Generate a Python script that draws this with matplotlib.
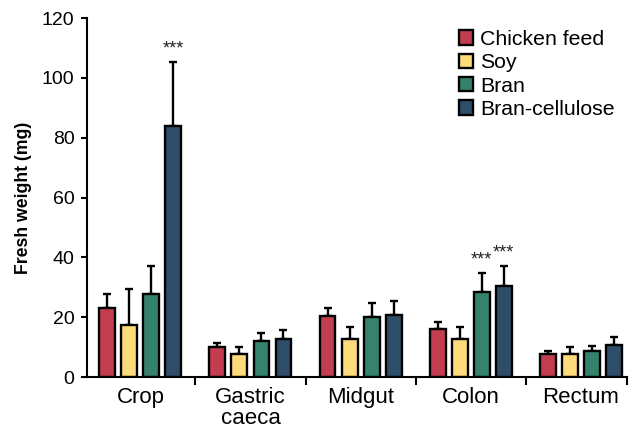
import numpy as np
import matplotlib.pyplot as plt
from matplotlib.patches import Patch

plt.rcParams['font.family'] = ['Liberation Sans', 'DejaVu Sans']

# gut sections and diets
sections = ["Crop", "Gastric\ncaeca", "Midgut", "Colon", "Rectum"]
diets = ["Chicken feed", "Soy", "Bran", "Bran-cellulose"]
colors = ["#C33D50", "#FDDA7A", "#36836D", "#2E4D69"]

# mean fresh weight (mg) per diet, ordered by section
chicken = [23.0, 10.0, 20.5, 16.2, 7.7]
soy = [17.4, 7.6, 12.7, 12.7, 7.7]
bran = [27.7, 12.0, 20.2, 28.3, 8.6]
bran_cell = [83.9, 12.6, 20.8, 30.5, 10.7]

# upper error (SD)
chicken_err = [4.7, 1.4, 2.7, 2.1, 1.0]
soy_err = [12.0, 2.4, 3.9, 4.0, 2.4]
bran_err = [9.4, 2.8, 4.5, 6.6, 1.9]
bran_cell_err = [21.5, 3.1, 4.7, 6.7, 2.6]

means = [chicken, soy, bran, bran_cell]
errs = [chicken_err, soy_err, bran_err, bran_cell_err]

# significance marks: (section, diet)
stars = [(0, 3), (3, 2), (3, 3)]

fig = plt.figure(figsize=(6.3, 4.29), dpi=100)
ax = fig.add_axes([0.138, 0.121, 0.857, 0.837])

x = np.arange(len(sections))
step = 0.2
width = 0.145
lw = 1.7
for k in range(len(diets)):
    pos = x + (k - 1.5) * step
    ax.bar(pos, means[k], width, color=colors[k], edgecolor="black",
           linewidth=lw, zorder=2)
    ax.errorbar(pos, means[k], yerr=[np.zeros(len(x)), errs[k]], fmt="none",
                ecolor="black", elinewidth=lw, capsize=3, capthick=lw, zorder=1)

for s, d in stars:
    xp = x[s] + (d - 1.5) * step
    top = means[d][s] + errs[d][s]
    ax.text(xp, top + 1.5, "***", ha="center", va="bottom",
            fontsize=13, color="#222222")

ax.set_xlim(-0.486, 4.42)
ax.set_ylim(0, 120)
ax.set_yticks(np.arange(0, 121, 20))
ax.tick_params(axis="y", labelsize=14, length=4, width=1.5, pad=5)

ax.set_xticks(x)
ax.set_xticklabels(sections, fontsize=16, linespacing=1.0)
ax.tick_params(axis="x", which="major", length=0, pad=7)
ax.set_xticks(list(x[:-1] + 0.5) + [4.42], minor=True)
ax.tick_params(axis="x", which="minor", length=6, width=1.5)

for side in ["top", "right"]:
    ax.spines[side].set_visible(False)
for side in ["left", "bottom"]:
    ax.spines[side].set_linewidth(1.5)

ax.set_ylabel("Fresh weight (mg)", fontsize=12.7, fontweight="bold", labelpad=7)

handles = [Patch(facecolor=c, edgecolor="black", linewidth=lw) for c in colors]
fig.legend(handles, diets, loc="upper left", bbox_to_anchor=(0.728, 0.93),
           frameon=False, fontsize=15.3, handlelength=0.68, handleheight=0.68,
           handletextpad=0.33, labelspacing=0.2, borderaxespad=0, borderpad=0)

fig.savefig("out.png", dpi=100)
